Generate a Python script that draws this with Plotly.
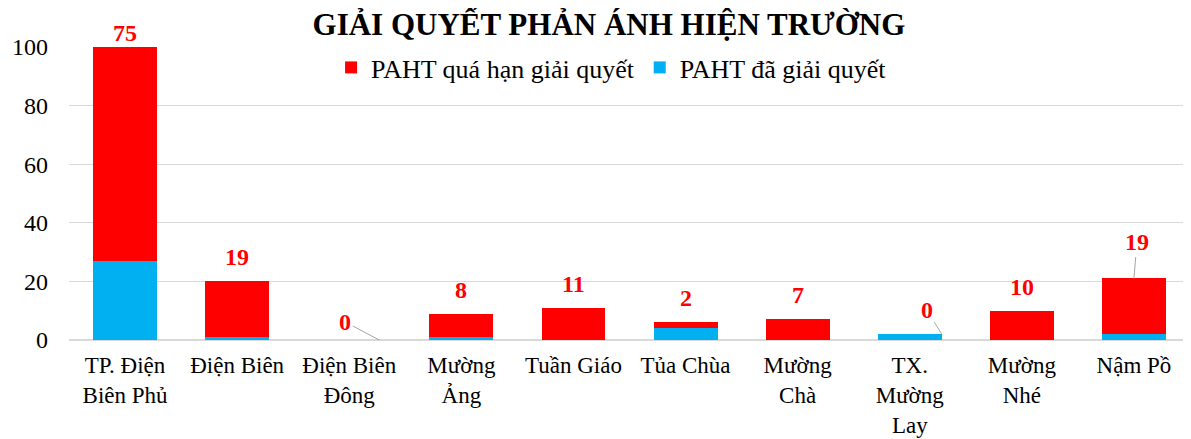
import plotly.graph_objects as go

categories = ['TP. Điện<br>Biên Phủ', 'Điện Biên', 'Điện Biên<br>Đông', 'Mường<br>Ảng',
              'Tuần Giáo', 'Tủa Chùa', 'Mường<br>Chà', 'TX.<br>Mường<br>Lay',
              'Mường<br>Nhé', 'Nậm Pồ']
da_giai_quyet = [27, 1, 0, 1, 0, 4, 0, 2, 0, 2]
qua_han = [75, 19, 0, 8, 11, 2, 7, 0, 10, 19]

font_name = 'Liberation Serif'

# labels that Excel moved by hand, drawn with a leader line (offsets in px)
leader_offsets = {
    'Điện Biên<br>Đông': (30, -34, -18),
    'TX.<br>Mường<br>Lay': (32, -15, -24),
    'Nậm Pồ': (0, 3, -36),
}

fig = go.Figure()
fig.add_trace(go.Bar(x=categories, y=da_giai_quyet, name='PAHT đã giải quyết',
                     marker_color='#00B0F0', marker_line_width=0))
fig.add_trace(go.Bar(x=categories, y=qua_han, name='PAHT quá hạn giải quyết',
                     marker_color='#FF0000', marker_line_width=0))

label_font = dict(family=font_name, size=24, color='#FF0000')
for cat, blue, red in zip(categories, da_giai_quyet, qua_han):
    total = blue + red
    if cat in leader_offsets:
        xs, ax, ay = leader_offsets[cat]
        fig.add_annotation(x=cat, y=total, text=f'<b>{red}</b>', font=label_font,
                           xshift=xs, showarrow=True, ax=ax, ay=ay,
                           arrowhead=0, arrowwidth=1, arrowcolor='#a6a6a6', standoff=0)
    elif total > 100:
        # bar is cut at the axis max, label sits just above the top
        fig.add_annotation(x=cat, y=100, text=f'<b>{red}</b>', font=label_font,
                           showarrow=False, yanchor='bottom', yshift=-1)
    else:
        fig.add_annotation(x=cat, y=total, text=f'<b>{red}</b>', font=label_font,
                           showarrow=False, yanchor='bottom', yshift=9)

fig.update_layout(
    barmode='stack',
    bargap=0.43,
    width=1183, height=431,
    margin=dict(l=61, r=1, t=39, b=99),
    paper_bgcolor='white', plot_bgcolor='white',
    font=dict(family=font_name, size=24, color='black'),
    title=dict(text='<b>GIẢI QUYẾT PHẢN ÁNH HIỆN TRƯỜNG</b>', x=0.508, xanchor='center',
               y=0.962, yanchor='middle', font=dict(family=font_name, size=31, color='black')),
    legend=dict(orientation='h', traceorder='reversed', x=0.484, xanchor='center',
                y=0.93, yanchor='middle', font=dict(family=font_name, size=26),
                bgcolor='rgba(0,0,0,0)', itemwidth=30),
    showlegend=True,
    yaxis=dict(range=[0, 100], dtick=20, showgrid=True, gridcolor='#d9d9d9', gridwidth=1,
               zeroline=True, zerolinecolor='#d9d9d9', showline=False, ticks='',
               ticklabelstandoff=20, automargin=False,
               tickfont=dict(family=font_name, size=24)),
    xaxis=dict(showline=False, ticks='', ticklabelstandoff=9, automargin=False,
               tickfont=dict(family=font_name, size=23), tickangle=0),
)

fig.write_html('out.html')
